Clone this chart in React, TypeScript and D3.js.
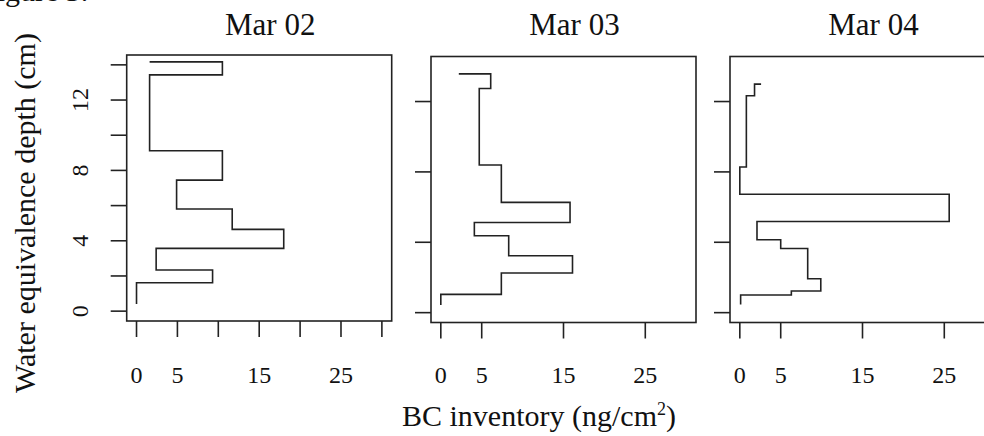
import React, { useEffect } from 'react';
import * as d3 from 'd3';

// panel titles
const dates = ['Mar 02', 'Mar 03', 'Mar 04'];

// depth (cm w.e.) and BC inventory (ng/cm2), top to bottom
const depthMar02 = [14.17, 13.43, 9.12, 7.45, 5.81, 4.65, 3.57, 2.34, 1.61, 0.4];
const bcMar02 = [1.6, 10.5, 1.6, 10.5, 4.9, 11.7, 18.0, 2.4, 9.3, 0.0];

const depthMar03 = [13.57, 12.74, 8.39, 6.27, 5.12, 4.37, 3.23, 2.25, 1.04, 0.43];
const bcMar03 = [2.2, 6.1, 4.7, 7.4, 15.8, 4.1, 8.3, 16.1, 7.4, 0.0];

const depthMar04 = [12.99, 12.33, 8.28, 6.73, 5.18, 4.14, 3.65, 1.93, 1.23, 1.0, 0.47];
const bcMar04 = [2.6, 1.8, 0.8, 0.0, 25.6, 2.1, 5.0, 8.3, 9.9, 6.3, 0.1];

// axis ticks
const xTicksFirst = [0, 5, 10, 15, 20, 25, 30];
const xTicksOther = [0, 5, 15, 25];
const xTickLabels = [0, 5, 15, 25];
const yTicksFirst = [0, 2, 4, 6, 8, 10, 12, 14];
const yTicksOther = [0, 4, 8, 12];
const yTickLabels = [0, 4, 8, 12];

const W = 984;
const H = 436;
const panelW = 265;
const panelH = 266;
const panelLeft = [126.7, 431, 730];
const panelTop = [55, 56.5, 56.5];
const ink = '#222';
const font = '"Liberation Serif", "Times New Roman", serif';

const series = [
  { depth: depthMar02, bc: bcMar02 },
  { depth: depthMar03, bc: bcMar03 },
  { depth: depthMar04, bc: bcMar04 },
];

const Panel = ({ i }: { i: number }) => {
  const left = panelLeft[i];
  const top = panelTop[i];
  const x = d3.scaleLinear().domain([-1.2, 31.2]).range([left, left + panelW]);
  const y = d3.scaleLinear().domain([-0.56, 14.56]).range([top + panelH, top]);
  const pts = series[i].depth.map((d, k) => [series[i].bc[k], d] as [number, number]);
  const line = d3
    .line<[number, number]>()
    .x((d) => x(d[0]))
    .y((d) => y(d[1]))
    .curve(d3.curveStepAfter);
  const xt = i === 0 ? xTicksFirst : xTicksOther;
  const yt = i === 0 ? yTicksFirst : yTicksOther;
  const bottom = top + panelH;

  return (
    <g>
      <text
        x={left + panelW / 2 + 11}
        y={35}
        textAnchor="middle"
        fontSize={31}
        fontFamily={font}
        fill="#111"
      >
        {dates[i]}
      </text>
      <rect x={left} y={top} width={panelW} height={panelH} fill="none" stroke={ink} strokeWidth={1.6} />
      <path d={line(pts) || ''} fill="none" stroke={ink} strokeWidth={1.6} />
      {xt.map((t) => (
        <line key={'x' + t} x1={x(t)} x2={x(t)} y1={bottom} y2={bottom + 16} stroke={ink} strokeWidth={1.6} />
      ))}
      {xTickLabels.map((t) => (
        <text
          key={'xl' + t}
          x={x(t)}
          y={383}
          textAnchor="middle"
          fontSize={24}
          fontFamily={font}
          fill="#111"
        >
          {t}
        </text>
      ))}
      {yt.map((t) => (
        <line key={'y' + t} x1={left - 16} x2={left} y1={y(t)} y2={y(t)} stroke={ink} strokeWidth={1.6} />
      ))}
      {i === 0 &&
        yTickLabels.map((t) => (
          <text
            key={'yl' + t}
            transform={`translate(88,${y(t)}) rotate(-90)`}
            textAnchor="middle"
            fontSize={24}
            fontFamily={font}
            fill="#111"
          >
            {t}
          </text>
        ))}
    </g>
  );
};

const App = () => {
  useEffect(() => {
    document.body.style.margin = '0';
  }, []);

  return (
    <svg
      width={W}
      height={H}
      style={{ position: 'absolute', left: 0, top: 0, background: '#fff' }}
    >
      <rect width={W} height={H} fill="#fff" />
      <text x={-20} y={1} fontSize={30} fontFamily={font} fill="#111">
        Figure 3.
      </text>
      {dates.map((d, i) => (
        <Panel key={d} i={i} />
      ))}
      <text
        transform="translate(35,213) rotate(-90)"
        textAnchor="middle"
        fontSize={30}
        fontFamily={font}
        fill="#111"
      >
        Water equivalence depth (cm)
      </text>
      <text x={539} y={426} textAnchor="middle" fontSize={30} fontFamily={font} fill="#111">
        BC inventory (ng/cm
        <tspan fontSize={18} dy={-11}>
          2
        </tspan>
        <tspan dy={11}>)</tspan>
      </text>
    </svg>
  );
};

export default App;
